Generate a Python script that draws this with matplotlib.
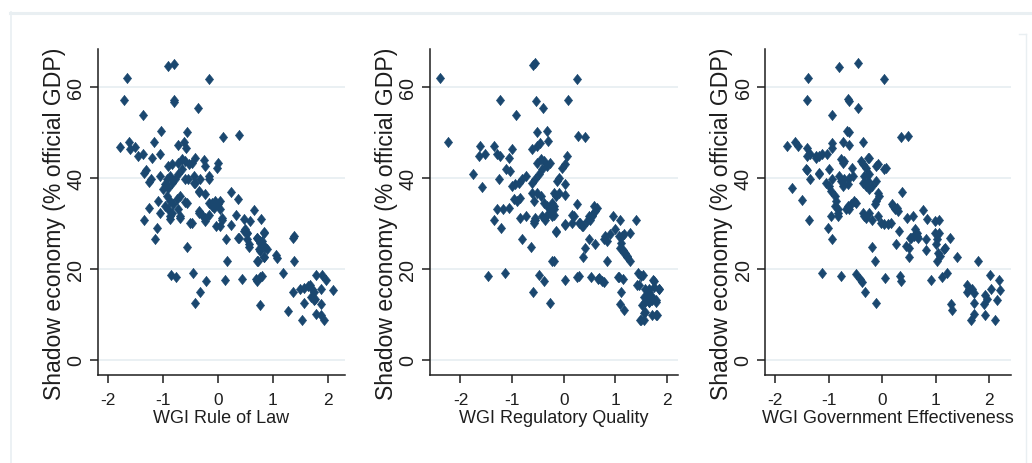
import matplotlib
matplotlib.use("Agg")
import matplotlib.pyplot as plt
from matplotlib import font_manager
from matplotlib.lines import Line2D

# ------------------- Data: ----------------------------------------------------------
law_x = [-0.90, -0.80, -1.66, -0.16, -1.70, -0.80, -0.79, -0.37, -1.37, -1.03, -0.57, 0.10, 0.38,
         -1.78, -1.61, -1.59, -1.51, -1.46, -1.37, -1.17, -1.19, -1.06, -0.72, -0.61, -0.58,
         -1.34, -1.30, -1.25, -1.22, -1.26, -1.34, -1.11, -1.14, -1.09, -1.05, -1.05,
         -0.88, -0.69, -0.57, -0.47, -0.59, -0.55, -0.47, -0.41, -0.26, -0.23, -0.17, -0.16, -0.35, -0.43,
         -0.23, -0.17, -0.08, -0.35, -0.23, -0.03, 0.03, 0.01, -0.02, 0.07, 0.15, 0.23, 0.23, 0.36, 0.32,
         0.36, 0.47, 0.49, 0.52, 0.53, 0.56, 0.58, 0.65, 0.79, 0.71, 0.77, 0.83, 0.86, 0.74, 0.73, 0.83,
         1.06, 1.08, 0.17, 1.37, 1.39, 1.38, 1.19, 0.70, 0.71, 0.76, 0.80, 0.44, 0.13, -0.22, -0.46, -0.33,
         -0.42, -0.85, -0.77, 0.77, 1.28, 1.37, 1.50, 1.56, 1.52, 1.56, 1.68, 1.71, 1.74, 1.70, 1.74, 1.77,
         1.79, 1.87, 1.79, 1.87, 1.93, 1.90, 1.96, 2.10, 1.87,
         -0.90, -0.84, -0.72, -0.66, -0.60, -0.53, -0.93, -0.87, -0.96, -0.99, -0.90, -0.84, -0.78, -0.72,
         -0.66, -0.93, -0.87, -0.81, -0.75, -0.69, -0.96, -0.90, -0.84, -0.72, -0.69, -0.57, -0.87, -0.60,
         -0.44, -0.41, -0.32, -0.35, -0.35, -0.29, -0.23, -0.17, -0.50, -0.11, -0.05, 0.01, 0.04, -0.11,
         0.07, 0.04, 0.38, 0.47, 0.53, 0.56, 0.71, 0.76, 0.83, 0.80, 0.77, 0.89, 0.83, 0.71, 1.64]
law_y = [64.6, 65.2, 62.0, 61.8, 57.2, 57.2, 56.8, 55.5, 53.8, 50.4, 50.2, 49.1, 49.4,
         46.9, 47.9, 46.5, 46.9, 44.8, 45.3, 47.9, 44.5, 45.3, 47.2, 48.0, 46.7,
         41.2, 41.8, 39.1, 39.7, 33.4, 30.8, 29.0, 26.6, 35.0, 32.4, 40.5,
         31.1, 31.3, 24.9, 30.2, 34.7, 39.7, 43.4, 44.5, 43.9, 42.6, 40.5, 39.7, 37.0, 39.0,
         36.6, 34.6, 33.5, 32.8, 30.6, 29.5, 35.0, 43.4, 42.3, 31.3, 26.7, 37.0, 29.7, 35.5, 31.9,
         26.9, 31.0, 28.8, 28.0, 26.6, 24.8, 30.6, 32.9, 31.0, 26.9, 26.2, 28.0, 24.8, 24.4, 21.8, 22.6,
         23.1, 22.4, 21.8, 26.9, 27.2, 21.8, 19.1, 17.8, 17.3, 18.2, 18.4, 17.8, 17.7, 17.3, 19.1, 14.9,
         12.6, 18.7, 18.3, 12.2, 10.7, 14.9, 15.7, 15.8, 8.7, 12.6, 16.4, 15.7, 14.9, 13.8, 13.1, 13.4,
         18.7, 12.3, 10.1, 9.8, 8.7, 18.7, 17.6, 15.3, 15.7,
         42.6, 43.0, 43.4, 44.1, 43.7, 43.0, 39.7, 40.4, 38.6, 37.5, 37.9, 39.0, 39.7, 40.8,
         41.9, 36.1, 35.0, 34.2, 35.3, 36.1, 33.9, 33.1, 32.4, 33.1, 31.7, 34.6, 31.7, 39.7,
         40.4, 39.0, 39.7, 37.2, 32.4, 32.0, 31.3, 32.0, 30.2, 34.6, 35.0, 34.2, 33.1, 33.9,
         30.9, 29.5, 26.9, 28.4, 28.0, 25.5, 26.9, 25.8, 28.2, 26.2, 24.0, 24.5, 22.6, 21.8, 16.2]

reg_x = [-0.60, -0.56, -2.40, 0.25, -1.24, -0.54, -0.40, 0.09, -0.93, -2.25,
         -0.52, -0.33, -0.30, -0.47, -0.52, -0.62, 0.27, 0.41,
         -1.62, -1.64, -1.52, -1.35, -1.30, -1.24, -1.00, -1.06,
         -1.75, -1.58, -1.11, -1.04, -1.26, -1.30, -1.18, -1.07, -1.35, -1.21, -0.80, -0.64, -0.85, -0.73,
         -0.57, -0.56, -1.46, -1.13, -0.59, -0.49, -0.38, -0.27, -0.22, -0.15, 0.03, 0.02,
         0.25, 0.19, 0.32, 0.36, 0.25, 0.30, 0.38, 0.41, 0.48, 0.51, 0.54, 0.60, 0.52, 0.64, 0.61, 0.58,
         0.67, 0.77, 0.77, 0.80, 0.83, 0.90, 0.83, 0.95, 1.00, 1.08, 1.13, 1.06, 1.16, 1.09, 1.14, 1.19,
         1.23, 1.29, 1.29, 1.40, 1.07, 1.15, 1.10, 1.08, 1.17, 1.44, 1.53, 1.42, 1.48, 1.55, 1.56, 1.58,
         1.64, 1.61, 1.68, 1.64, 1.71, 1.58, 1.73, 1.75, 1.79, 1.80, 1.85,
         -1.00, -0.94, -0.87, -0.81, -0.74, -0.97, -0.91, -0.84,
         -0.52, -0.45, -0.39, -0.32, -0.26, -0.42, -0.49, -0.55, -0.61,
         -0.61, -0.58, -0.52, -0.45, -0.39, -0.32, -0.26, -0.19, -0.32, -0.42, -0.55, -0.58, -0.36, -0.23,
         -0.16, 0.06, 0.03, -0.03, -0.10, -0.13, 0.03, -0.19, -0.16, -0.10, 0.02, -0.23, -0.19, -0.19,
         0.16, 0.03, 0.16, 0.29, 0.37, 0.45, 0.49, 0.55,
         1.10, 1.17, 1.23, -0.19, 0.74, 0.68, 1.05,
         1.49, 1.46, 1.84, 1.75, 1.65, 1.55, 1.65, 1.72, 1.78, 1.52, 1.58, 1.71, 1.49, 1.79]
reg_y = [64.9, 65.3, 62.0, 61.8, 57.2, 57.0, 55.5, 57.2, 53.8, 47.9,
         50.1, 50.4, 48.1, 47.7, 47.0, 46.5, 49.3, 49.0,
         47.0, 44.8, 45.3, 47.0, 45.3, 44.8, 46.5, 44.5,
         40.8, 38.0, 41.9, 41.5, 39.7, 33.1, 33.3, 33.5, 30.8, 29.0, 26.7, 24.9, 31.2, 31.7,
         30.6, 31.3, 18.5, 19.1, 14.9, 18.7, 17.3, 12.6, 21.8, 28.2, 29.7, 17.7,
         34.2, 31.7, 30.2, 29.5, 18.2, 18.5, 22.6, 24.7, 26.6, 30.9, 31.7, 25.6, 18.3, 33.5, 32.8, 33.9,
         17.8, 17.2, 26.6, 27.3, 26.2, 27.7, 21.8, 31.7, 28.8, 30.9, 27.3, 27.3, 27.7, 24.7, 24.2, 23.6,
         22.9, 21.8, 28.0, 30.8, 18.2, 17.8, 14.9, 12.3, 10.9, 19.1, 18.8, 16.4, 8.7, 8.7, 10.4, 15.7,
         14.9, 14.2, 13.8, 12.7, 13.1, 12.7, 17.6, 17.4, 13.1, 9.8, 15.6,
         38.2, 38.6, 39.0, 39.7, 40.4, 35.3, 35.0, 35.7,
         43.4, 44.1, 43.7, 42.6, 43.4, 41.9, 40.8, 39.7, 39.0,
         36.8, 35.0, 36.8, 36.1, 34.6, 33.9, 33.1, 33.9, 32.0, 31.7, 30.9, 30.2, 30.9, 31.7,
         28.4, 44.8, 43.0, 42.3, 40.1, 39.3, 38.6, 36.8, 36.1, 36.8, 36.2, 34.6, 33.1, 32.0,
         32.0, 29.9, 30.2, 30.2, 29.5, 30.6, 31.7, 32.0,
         25.8, 23.6, 22.6, 21.8, 17.3, 18.0, 18.2,
         18.5, 16.4, 15.6, 16.0, 15.6, 13.8, 12.7, 13.6, 12.7, 12.0, 10.5, 9.8, 8.7, 9.8]

gov_x = [-0.81, -0.45, -1.38, 0.04, -1.41, -0.63, -0.61, -0.45, -0.93, -0.66, -0.61, 0.35, 0.49,
         -1.78, -1.63, -1.57, -1.41, -1.41, -1.35, -1.23, -1.13, -1.04, -0.93, -0.93, -0.73, -0.61,
         -0.36, -0.26, -1.41, -1.35, -1.18, -1.68, -1.49, -1.37, -1.12, -1.01, -0.94, -0.76, -0.49,
         -0.41, -0.38, -0.32, -0.12, -0.19, -0.13, 0.06, 0.34, 0.35, 0.37, 0.26, 0.31, 0.51, 0.51, 0.46,
         0.57, 0.52, 0.59, 0.65, 0.62, 0.66, 0.76, 0.83, 0.82, 0.82, 0.91, 0.99, 1.06, 0.99, 1.03, 1.07,
         1.01, 1.04, 1.03, 1.09, 1.15, 1.18, 1.12, 1.21, 1.27, 1.40, 1.29, 1.31, 1.59, 1.62, 1.58, 1.68,
         1.71, 1.71, 1.71, 1.67, 1.79, 1.93, 1.90, 1.96, 1.93, 2.01, 2.04, 2.15, 2.12, 2.18, 2.21,
         -1.24, -1.18, -1.43, -1.18, -0.99, -0.93, -1.05, -0.99, -0.96, -0.89, -0.86, -0.89, -0.83,
         -0.83, -0.80, -0.77, -0.74, -0.71, -0.77, -0.71, -0.74, -0.56, -0.61, -0.64, -0.55, -0.64,
         -0.58, -0.49, -0.52, -0.61, -0.68, -0.83, -0.96,
         -0.39, -0.36, -0.30, -0.33, -0.24, -0.27, -0.36, -0.30, -0.24, -0.24, -0.11, -0.08,
         -0.36, -0.33, -0.30, -0.24, -0.18, -0.08, -0.02, 0.04, 0.11, -0.08, -0.05, -0.11, -0.14,
         0.04, -0.11, -0.18, 0.21, 0.24, 0.27, 0.08, 0.19, 0.29, 0.17, 0.45, 0.54, 0.64, 0.67]
gov_y = [64.5, 65.3, 62.0, 61.8, 57.2, 57.4, 56.9, 55.5, 53.8, 50.4, 50.1, 49.0, 49.3,
         47.0, 47.9, 47.0, 46.6, 44.8, 45.3, 44.8, 45.3, 45.3, 47.7, 46.6, 47.9, 47.2,
         48.0, 44.5, 41.8, 39.7, 41.2, 37.9, 35.2, 30.7, 19.1, 29.0, 26.6, 18.4, 18.9,
         17.8, 17.2, 14.9, 12.6, 24.9, 21.8, 18.0, 18.5, 17.4, 36.9, 25.6, 28.4, 24.7, 22.6, 31.3,
         31.7, 26.9, 27.3, 27.3, 28.8, 28.0, 32.9, 31.1, 26.6, 24.2, 17.7, 30.6, 30.8, 28.0, 26.6, 28.0,
         25.5, 23.6, 21.8, 22.9, 24.4, 24.7, 18.2, 19.1, 26.9, 22.6, 12.3, 10.9, 16.5, 15.6, 14.9, 15.6,
         14.7, 12.6, 10.1, 8.7, 21.8, 14.2, 12.3, 13.4, 9.8, 18.7, 15.6, 13.1, 8.7, 17.6, 15.3,
         44.5, 44.8, 41.9, 41.0, 42.0, 39.7, 39.0, 38.2, 37.2, 36.1, 35.0, 33.9, 33.1,
         32.4, 40.4, 39.3, 38.2, 39.7, 44.1, 43.7, 43.4, 42.3, 40.1, 38.6, 40.4, 33.9,
         34.2, 34.6, 35.0, 33.1, 33.1, 31.7, 31.7,
         43.7, 43.0, 42.3, 40.4, 40.8, 39.3, 39.0, 38.2, 37.5, 44.5, 42.6, 43.0,
         32.4, 31.7, 31.3, 32.4, 30.9, 31.7, 30.2, 29.9, 29.9, 36.8, 36.1, 35.0, 34.2,
         41.9, 39.3, 38.2, 33.9, 33.1, 33.5, 42.3, 34.2, 32.8, 30.2, 25.1, 26.9, 28.0, 26.9]

x_labels = ["WGI Rule of Law", "WGI Regulatory Quality", "WGI Government Effectiveness"]
y_label = "Shadow economy (% official GDP)"
x_ticks = [-2, -1, 0, 1, 2]
y_ticks = [0, 20, 40, 60]

# ------------------- Style: ---------------------------------------------------------
W, H = 1032, 464
NAVY = "#1a476f"
GRID = "#e6eef1"
FRAME = "#e9eff2"
INK = "#1e1e1e"

plt.rcParams["axes.unicode_minus"] = False
names = {f.name for f in font_manager.fontManager.ttflist}
if "Liberation Sans Narrow" in names:
    hfont, xlab_size, xtick_size = "Liberation Sans Narrow", 15.2, 13.8
else:
    hfont, xlab_size, xtick_size = "Liberation Sans", 13.0, 12.4
vfont = "Liberation Sans"

# axes boxes in pixels: left, right, top, bottom
boxes = [(98, 345, 50, 376), (430, 678, 50, 376), (765, 1011, 50, 376)]
xlims = [(-2.18, 2.31), (-2.59, 2.21), (-2.19, 2.41)]
diamond = [(0, 1), (0.8, 0), (0, -1), (-0.8, 0), (0, 1)]

fig = plt.figure(figsize=(W / 100, H / 100), dpi=100)
fig.patch.set_facecolor("white")

panels = [(law_x, law_y), (reg_x, reg_y), (gov_x, gov_y)]
for i, (xs, ys) in enumerate(panels):
    l, r, t, b = boxes[i]
    ax = fig.add_axes([l / W, 1 - b / H, (r - l) / W, (b - t) / H])
    for v in y_ticks:
        ax.axhline(v, color=GRID, lw=1.2, zorder=0)
    ax.plot(xs, ys, linestyle="none", marker=diamond, ms=7.4,
            color=NAVY, markeredgecolor=NAVY, markeredgewidth=0.4, zorder=3)
    ax.set_xlim(*xlims[i])
    ax.set_ylim(-3.3, 68.4)
    ax.set_xticks(x_ticks)
    ax.set_yticks(y_ticks)
    ax.set_xticklabels([str(v) for v in x_ticks], fontfamily=hfont, fontsize=xtick_size)
    ax.set_yticklabels([str(v) for v in y_ticks], fontfamily=vfont, fontsize=14.2,
                       rotation=90, va="center")
    ax.tick_params(axis="both", direction="out", length=6, width=1.1, color=INK,
                   labelcolor=INK)
    ax.tick_params(axis="x", pad=6)
    ax.tick_params(axis="y", pad=3)
    for s in ["top", "right"]:
        ax.spines[s].set_visible(False)
    for s in ["left", "bottom"]:
        ax.spines[s].set_linewidth(1.1)
        ax.spines[s].set_color(INK)
    ax.set_xlabel(x_labels[i], fontfamily=hfont, fontsize=xlab_size, color=INK, va="top")
    ax.xaxis.set_label_coords(0.5, -0.103)
    ax.set_ylabel(y_label, fontfamily=vfont, fontsize=16.6, color=INK, va="center")
    ax.yaxis.set_label_coords(-0.175 * 247 / (r - l), 0.466)
    ax.set_facecolor("none")

# faint outer frame
def px_line(x0, y0, x1, y1, lw):
    fig.add_artist(Line2D([x0 / W, x1 / W], [1 - y0 / H, 1 - y1 / H],
                          transform=fig.transFigure, color=FRAME, lw=lw))

px_line(10, 13.5, W, 13.5, 2.2)
px_line(10.5, 13, 10.5, H, 1.2)
px_line(1019, 35, 1025.5, 35, 1.0)
px_line(1025.5, 35, 1025.5, H, 1.0)

fig.savefig("out.png", dpi=100, facecolor="white")
